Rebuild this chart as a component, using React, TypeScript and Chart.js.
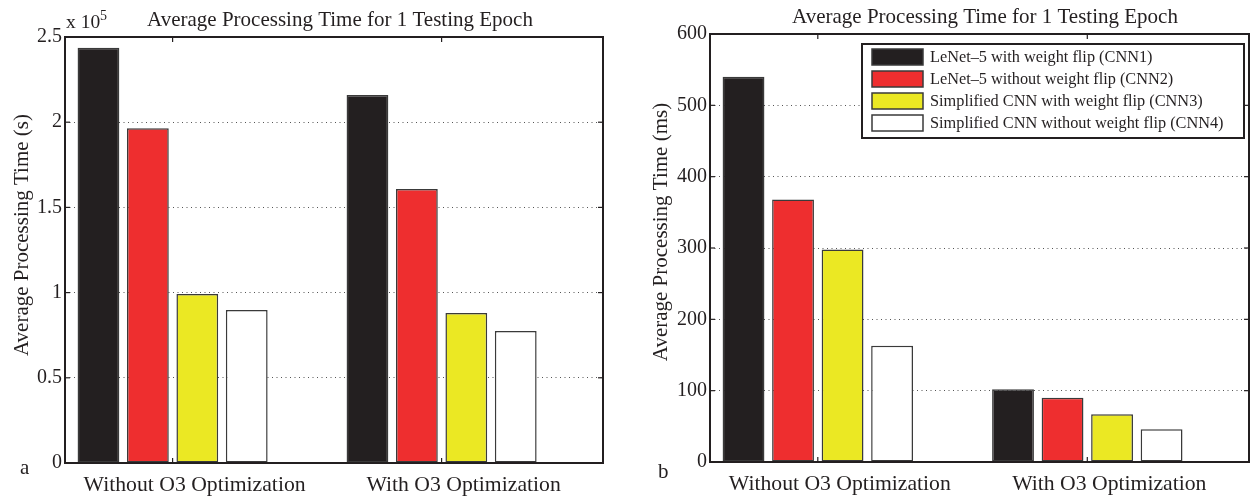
import React, { useEffect, useRef } from "react";
import { Chart, registerables } from "chart.js";
Chart.register(...registerables);

// ---- data ----
const categories = ["Without O3 Optimization", "With O3 Optimization"];
const seriesNames = [
  "LeNet\u20135 with weight flip (CNN1)",
  "LeNet\u20135 without weight flip (CNN2)",
  "Simplified CNN with weight flip (CNN3)",
  "Simplified CNN without weight flip (CNN4)",
];
const seriesColors = ["#231F20", "#EE2E2F", "#EBE823", "#FFFFFF"];

// panel a: seconds
const secCNN1 = [243700, 216000];
const secCNN2 = [196500, 160800];
const secCNN3 = [99200, 88000];
const secCNN4 = [89800, 77500];
// panel b: milliseconds
const msCNN1 = [540, 102];
const msCNN2 = [368, 90];
const msCNN3 = [298, 67];
const msCNN4 = [163, 46];

const titleText = "Average Processing Time for 1 Testing Epoch";
const yTitleA = "Average Processing Time (s)";
const yTitleB = "Average Processing Time (ms)";

const FONT = "'Liberation Serif', 'Times New Roman', serif";
const INK = "#231F20";

type PanelCfg = {
  series: number[][];
  yMax: number;
  yStep: number;
  yFmt: (v: number) => string;
  yTitle: string;
  yAxisWidth: number;
  padRight: number;
  padTop: number;
  xAxisHeight: number;
  titleX: number;
  titleY: number;
  yTitleX: number;
  yTitleY: number;
  panel: string;
  panelX: number;
  panelY: number;
  exponent: boolean;
  legend: boolean;
};

function line(ctx: CanvasRenderingContext2D, x1: number, y1: number, x2: number, y2: number) {
  ctx.beginPath();
  ctx.moveTo(x1, y1);
  ctx.lineTo(x2, y2);
  ctx.stroke();
}

function makePlugin(cfg: PanelCfg) {
  return {
    id: "matlabFrame",
    afterDraw(chart: any) {
      const ctx: CanvasRenderingContext2D = chart.ctx;
      const { left, right, top, bottom } = chart.chartArea;
      ctx.save();
      // frame
      ctx.strokeStyle = INK;
      ctx.lineWidth = 2;
      ctx.strokeRect(left, top, right - left, bottom - top);
      // inward ticks
      ctx.lineWidth = 1.2;
      const yS = chart.scales.y;
      yS.ticks.forEach((t: any) => {
        const py = yS.getPixelForValue(t.value);
        line(ctx, left, py, left + 5, py);
        line(ctx, right, py, right - 5, py);
      });
      const xS = chart.scales.x;
      xS.ticks.forEach((t: any) => {
        const px = xS.getPixelForValue(t.value);
        line(ctx, px, bottom, px, bottom - 5);
        line(ctx, px, top, px, top + 5);
      });
      // title
      ctx.fillStyle = INK;
      ctx.font = `21px ${FONT}`;
      ctx.textAlign = "center";
      ctx.textBaseline = "alphabetic";
      ctx.fillText(titleText, cfg.titleX, cfg.titleY);
      // y title
      ctx.save();
      ctx.translate(cfg.yTitleX, cfg.yTitleY);
      ctx.rotate(-Math.PI / 2);
      ctx.font = `21px ${FONT}`;
      ctx.textAlign = "center";
      ctx.fillText(cfg.yTitle, 0, 0);
      ctx.restore();
      // panel letter
      ctx.textAlign = "left";
      ctx.font = `21px ${FONT}`;
      ctx.fillText(cfg.panel, cfg.panelX, cfg.panelY);
      // exponent
      if (cfg.exponent) {
        ctx.font = `19.5px ${FONT}`;
        ctx.fillText("x 10", left + 1, 28);
        ctx.font = `14px ${FONT}`;
        ctx.fillText("5", left + 35, 20);
      }
      // legend
      if (cfg.legend) {
        const bx = 237, by = 44, bw = 382, bh = 94;
        ctx.fillStyle = "#FFFFFF";
        ctx.fillRect(bx, by, bw, bh);
        ctx.strokeStyle = INK;
        ctx.lineWidth = 2;
        ctx.strokeRect(bx, by, bw, bh);
        chart.data.datasets.forEach((ds: any, i: number) => {
          const cy = 57 + i * 22;
          ctx.fillStyle = ds.backgroundColor;
          ctx.fillRect(247, cy - 8, 51, 16);
          ctx.strokeStyle = "#3a3a3a";
          ctx.lineWidth = 1.5;
          ctx.strokeRect(247, cy - 8, 51, 16);
          ctx.fillStyle = INK;
          ctx.font = `16.3px ${FONT}`;
          ctx.textAlign = "left";
          ctx.textBaseline = "middle";
          ctx.fillText(ds.label, 305, cy + 1);
        });
      }
      ctx.restore();
    },
  };
}

function Panel({ cfg }: { cfg: PanelCfg }) {
  const ref = useRef<HTMLCanvasElement | null>(null);
  useEffect(() => {
    if (!ref.current) return;
    const datasets = cfg.series.map((vals, i) => ({
      label: seriesNames[i],
      data: vals.map((v, j) => ({ x: j + 1, y: v })),
      backgroundColor: seriesColors[i],
      borderColor: "#3a3a3a",
      borderWidth: 1.5,
      borderSkipped: false as const,
      barPercentage: 0.845,
      categoryPercentage: 0.735,
    }));
    const chart = new Chart(ref.current, {
      type: "bar",
      data: { datasets },
      options: {
        animation: false,
        responsive: false,
        devicePixelRatio: 1,
        layout: { padding: { left: 0, right: cfg.padRight, top: cfg.padTop, bottom: 0 } },
        plugins: { legend: { display: false }, title: { display: false }, tooltip: { enabled: false } },
        scales: {
          x: {
            type: "linear",
            min: 0.6,
            max: 2.6,
            offset: false,
            grid: { display: false, offset: false },
            border: { display: false },
            afterBuildTicks: (s: any) => {
              s.ticks = [{ value: 1 }, { value: 2 }];
            },
            afterFit: (s: any) => {
              s.height = cfg.xAxisHeight;
            },
            ticks: {
              autoSkip: false,
              maxRotation: 0,
              padding: 1,
              labelOffset: 22,
              color: INK,
              font: { family: FONT, size: 21.7 },
              callback: (v: any) => categories[Math.round(Number(v)) - 1] ?? "",
            },
          },
          y: {
            type: "linear",
            min: 0,
            max: cfg.yMax,
            grid: { color: "#555", lineWidth: 1, drawTicks: false },
            border: { display: false, dash: [1, 3.5] },
            afterFit: (s: any) => {
              s.width = cfg.yAxisWidth;
            },
            ticks: {
              stepSize: cfg.yStep,
              padding: 3,
              color: INK,
              font: { family: FONT, size: 20 },
              callback: (v: any) => cfg.yFmt(Number(v)),
            },
          },
        },
      },
      plugins: [makePlugin(cfg)],
    });
    return () => chart.destroy();
  }, [cfg]);
  return <canvas ref={ref} width={625} height={496} style={{ display: "block", width: 625, height: 496 }} />;
}

const cfgA: PanelCfg = {
  series: [secCNN1, secCNN2, secCNN3, secCNN4],
  yMax: 250000,
  yStep: 50000,
  yFmt: (v) => String(Math.round(v / 1e4) / 10),
  yTitle: yTitleA,
  yAxisWidth: 65,
  padRight: 22,
  padTop: 37,
  xAxisHeight: 33,
  titleX: 340,
  titleY: 26,
  yTitleX: 28,
  yTitleY: 235,
  panel: "a",
  panelX: 20,
  panelY: 474,
  exponent: true,
  legend: false,
};

const cfgB: PanelCfg = {
  series: [msCNN1, msCNN2, msCNN3, msCNN4],
  yMax: 600,
  yStep: 100,
  yFmt: (v) => String(v),
  yTitle: yTitleB,
  yAxisWidth: 85,
  padRight: 1,
  padTop: 34,
  xAxisHeight: 34,
  titleX: 360,
  titleY: 23,
  yTitleX: 42,
  yTitleY: 232,
  panel: "b",
  panelX: 33,
  panelY: 478,
  exponent: false,
  legend: true,
};

export default function App() {
  return (
    <div style={{ position: "absolute", left: 0, top: 0, width: 1250, height: 496, display: "flex", background: "#fff", overflow: "hidden" }}>
      <Panel cfg={cfgA} />
      <Panel cfg={cfgB} />
    </div>
  );
}
